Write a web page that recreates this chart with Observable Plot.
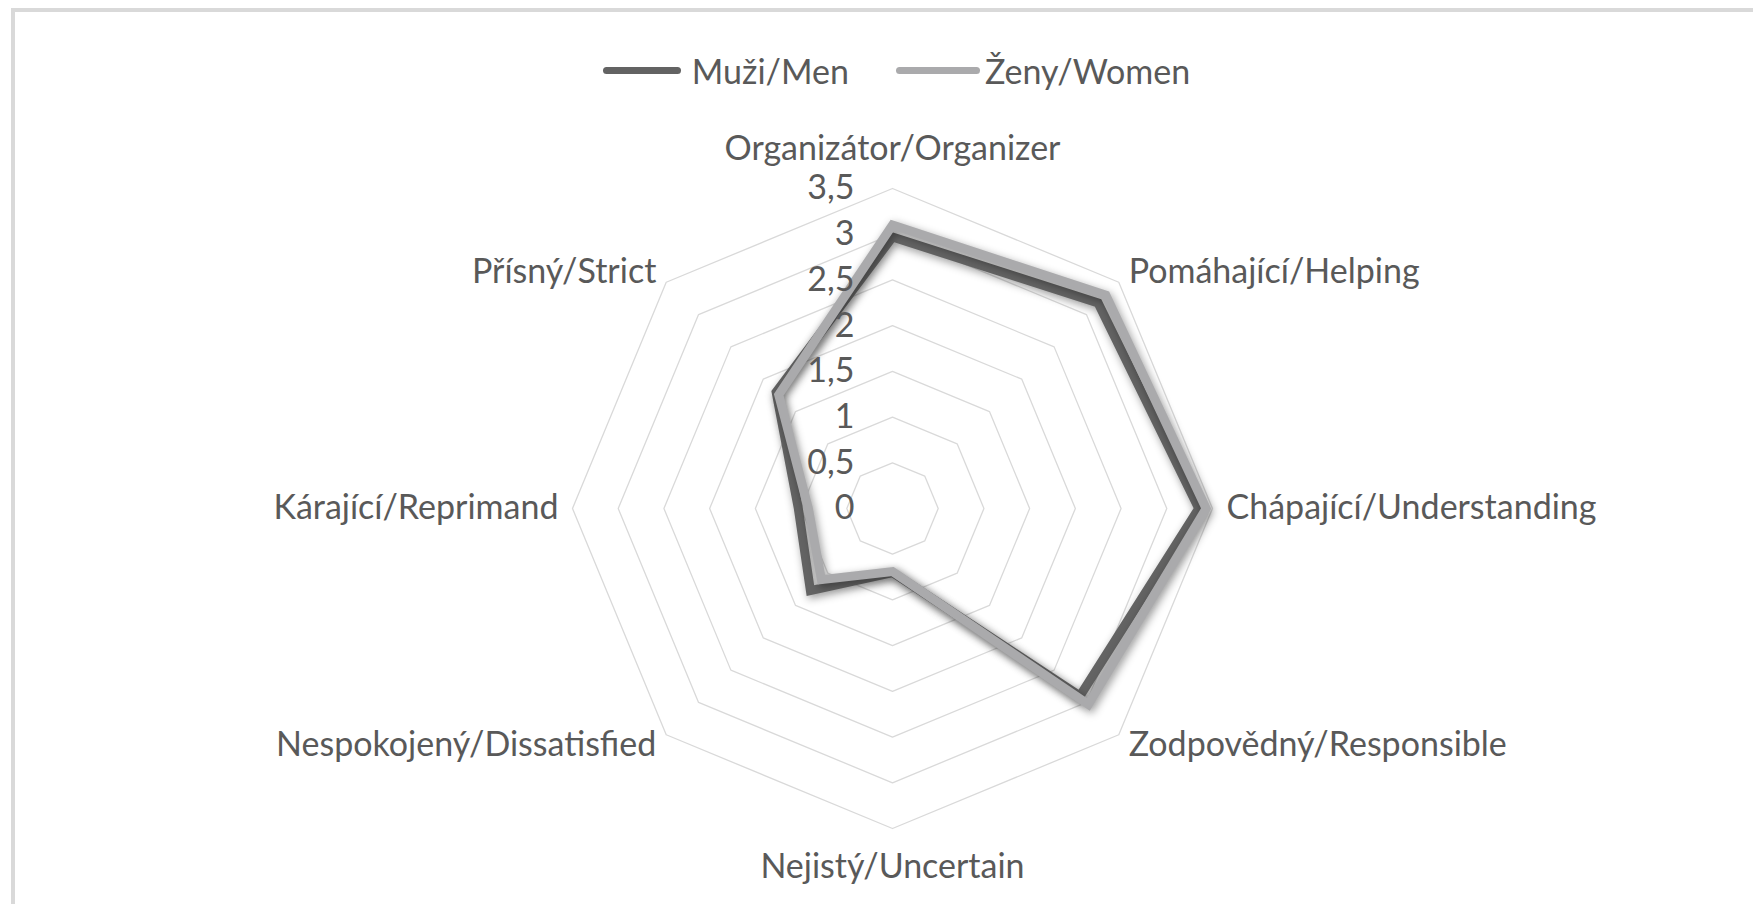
<!DOCTYPE html>
<html><head><meta charset="utf-8">
<script src="https://cdn.jsdelivr.net/npm/d3@7"></script>
<script src="https://cdn.jsdelivr.net/npm/@observablehq/plot@0.6"></script>
<style>
body{margin:0;background:#fff;font-family:Lato,"Open Sans",sans-serif;}
#wrap{position:relative;width:1753px;height:904px;overflow:hidden;background:#fff;}
#frame{position:absolute;left:11px;top:8px;width:1800px;height:1000px;border:4px solid #d9d9d9;box-sizing:border-box;}
#legend{position:absolute;top:40px;left:40px;width:1713px;height:60px;display:flex;justify-content:center;align-items:center;font-size:34px;color:#595959;}
.item{display:flex;align-items:center;}
.sw{display:inline-block;height:7px;border-radius:4px;}
#chart{position:absolute;top:100px;left:0;}
</style>
</head><body>
<div id="wrap"><div id="frame"></div><div id="legend"></div><div id="chart"></div></div>
<script>
const categories = ["Organizátor/Organizer","Pomáhající/Helping","Chápající/Understanding","Zodpovědný/Responsible","Nejistý/Uncertain","Nespokojený/Dissatisfied","Kárající/Reprimand","Přísný/Strict"];
const menValues = [2.97, 3.18, 3.35, 2.9, 0.7, 1.27, 1.03, 1.8];
const womenValues = [3.1, 3.3, 3.43, 3.03, 0.69, 1.1, 0.92, 1.76];
const seriesNames = ["Muži/Men","Ženy/Women"];
const seriesColors = ["#636363","#aaaaac"];
const tickValues = [0, 0.5, 1, 1.5, 2, 2.5, 3, 3.5];
const tickLabels = ["0","0,5","1","1,5","2","2,5","3","3,5"];

const W = 1753, H = 804, cx = 892, cy = 408, R = 320;
const maxV = 3.5, ppu = R / maxV;
const n = categories.length;
const ang = i => i * 2 * Math.PI / n;
const px = (r, i) => r * Math.sin(ang(i));
const py = (r, i) => r * Math.cos(ang(i));

const gridRows = [];
tickValues.filter(v => v > 0).forEach(v => categories.forEach((c, i) => gridRows.push({level: v, x: px(v, i), y: py(v, i)})));

const seriesRows = [];
[menValues, womenValues].forEach((vals, s) => vals.forEach((v, i) => seriesRows.push({series: seriesNames[s], x: px(v, i), y: py(v, i)})));

const labelRows = categories.map((c, i) => {
  const s = Math.sin(ang(i));
  const pad = Math.abs(s) < 1e-6 ? 39 / ppu : 14 / ppu;
  const r = maxV + pad;
  return {label: c, x: px(r, i), y: py(r, i), side: Math.abs(s) < 1e-6 ? "mid" : (s > 0 ? "right" : "left")};
});

const FS = 34;
const lineOpts = {x: "x", y: "y", z: "series", stroke: "series", curve: "linear-closed", strokeWidth: 9, strokeLinejoin: "miter", strokeMiterlimit: 10};
const chart = Plot.plot({
  width: W, height: H, margin: 0,
  x: {domain: [-cx / ppu, (W - cx) / ppu], axis: null},
  y: {domain: [-(H - cy) / ppu, cy / ppu], axis: null},
  color: {domain: seriesNames, range: seriesColors},
  style: {fontFamily: "Lato, 'Open Sans', sans-serif", color: "#595959", background: "transparent"},
  marks: [
    Plot.line(gridRows, {x: "x", y: "y", z: "level", curve: "linear-closed", stroke: "#d9d9d9", strokeWidth: 1.3}),
    Plot.line(seriesRows.filter(d => d.series === seriesNames[0]), lineOpts),
    Plot.line(seriesRows.filter(d => d.series === seriesNames[1]), lineOpts),
    Plot.text(tickValues, {x: 0, y: d => d, text: (d, i) => tickLabels[i], textAnchor: "end", dx: -38, fontSize: FS, fill: "#595959"}),
    Plot.text(labelRows.filter(d => d.side === "mid"), {x: "x", y: "y", text: "label", textAnchor: "middle", fontSize: FS, fill: "#595959"}),
    Plot.text(labelRows.filter(d => d.side === "right"), {x: "x", y: "y", text: "label", textAnchor: "start", fontSize: FS, fill: "#595959"}),
    Plot.text(labelRows.filter(d => d.side === "left"), {x: "x", y: "y", text: "label", textAnchor: "end", fontSize: FS, fill: "#595959"})
  ]
});
chart.querySelectorAll('g[aria-label="line"]').forEach((g, k) => {
  if (k > 0) g.style.filter = "drop-shadow(2px 3px 4px rgba(0,0,0,0.4))";
});
document.getElementById("chart").appendChild(chart);

const legend = document.getElementById("legend");
const swW = [78, 84], swGap = [11, 5];
seriesNames.forEach((name, s) => {
  const item = document.createElement("div");
  item.className = "item";
  if (s > 0) item.style.marginLeft = "47px";
  const sw = document.createElement("span");
  sw.className = "sw";
  sw.style.background = seriesColors[s];
  sw.style.width = swW[s] + "px";
  sw.style.marginRight = swGap[s] + "px";
  const t = document.createElement("span");
  t.textContent = name;
  item.appendChild(sw); item.appendChild(t);
  legend.appendChild(item);
});
</script>
</body></html>
